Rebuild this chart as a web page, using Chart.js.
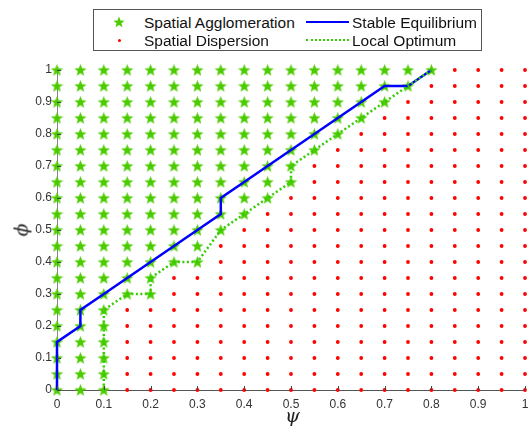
<!DOCTYPE html>
<html>
<head>
<meta charset="utf-8">
<script src="https://cdn.jsdelivr.net/npm/chart.js@4/dist/chart.umd.min.js"></script>
<style>
  html,body{margin:0;padding:0;background:#fff;}
  #wrap{position:relative;width:532px;height:436px;}
  #c{position:absolute;left:0;top:0;}
  #legend{position:absolute;left:93px;top:9px;width:387px;height:40px;border:1px solid #555;background:#fff;
    font-family:"Liberation Sans",Arial,sans-serif;font-size:15.5px;color:#111;}
  .it{position:absolute;white-space:nowrap;line-height:18px;}
  .sym{position:absolute;}
  .axt{position:absolute;font-family:"DejaVu Serif",serif;font-style:italic;font-size:19px;color:#222;line-height:20px;}
</style>
</head>
<body>
<div id="wrap">
  <canvas id="c" width="532" height="436"></canvas>
  <div id="legend">
    <canvas class="sym" id="lgStar" width="12" height="12" style="left:19px;top:6px;"></canvas>
    <span class="it" style="left:50px;top:4px;">Spatial Agglomeration</span>
    <span class="sym" style="left:24px;top:29px;width:3px;height:3px;border-radius:50%;background:#ff0000;"></span>
    <span class="it" style="left:50px;top:22px;">Spatial Dispersion</span>
    <span class="sym" style="left:212px;top:11px;width:43px;height:0;border-top:2.5px solid #0000ff;"></span>
    <span class="it" style="left:258px;top:4px;">Stable Equilibrium</span>
    <span class="sym" style="left:212px;top:29px;width:43px;height:0;border-top:2.5px dotted #33cc00;"></span>
    <span class="it" style="left:258px;top:22px;">Local Optimum</span>
  </div>
  <div class="axt" style="left:285px;top:405px;">ψ</div>
  <div class="axt" style="left:14px;top:220px;transform:rotate(-90deg);">ϕ</div>
</div>
<script>
// ---- data ----
const psiGrid = [0,0.05,0.1,0.15,0.2,0.25,0.3,0.35,0.4,0.45,0.5,0.55,0.6,0.65,0.7,0.75,0.8,0.85,0.9,0.95,1];
const phiGrid = [0,0.05,0.1,0.15,0.2,0.25,0.3,0.35,0.4,0.45,0.5,0.55,0.6,0.65,0.7,0.75,0.8,0.85,0.9,0.95,1];
// largest psi with agglomeration (star) in each phi row
const aggloMaxPsi = [0.1,0.1,0.1,0.1,0.1,0.1,0.2,0.2,0.3,0.3,0.35,0.4,0.45,0.5,0.5,0.55,0.6,0.65,0.7,0.75,0.8];
// stable equilibrium curve
const stablePsi = [0,0,0,0,0.05,0.05,0.1,0.15,0.2,0.25,0.3,0.35,0.35,0.4,0.45,0.5,0.55,0.6,0.65,0.7,0.75,0.8];
const stablePhi = [0,0.05,0.1,0.15,0.2,0.25,0.3,0.35,0.4,0.45,0.5,0.55,0.6,0.65,0.7,0.75,0.8,0.85,0.9,0.95,0.95,1];
// local optimum curve
const localPsi = [0.1,0.1,0.1,0.1,0.1,0.1,0.15,0.2,0.2,0.25,0.3,0.35,0.4,0.45,0.5,0.5,0.55,0.6,0.65,0.7,0.75,0.8];
const localPhi = [0,0.05,0.1,0.15,0.2,0.25,0.3,0.3,0.35,0.4,0.4,0.5,0.55,0.6,0.65,0.7,0.75,0.8,0.85,0.9,0.95,1];
const xTicks = [0,0.1,0.2,0.3,0.4,0.5,0.6,0.7,0.8,0.9,1];
const yTicks = [0,0.1,0.2,0.3,0.4,0.5,0.6,0.7,0.8,0.9,1];

// ---- build point tables ----
const aggPts = [], disPts = [];
phiGrid.forEach((phi, i) => {
  psiGrid.forEach(psi => {
    if (psi <= aggloMaxPsi[i] + 1e-9) aggPts.push({x: psi, y: phi});
    else disPts.push({x: psi, y: phi});
  });
});
const stablePts = stablePsi.map((x, i) => ({x, y: stablePhi[i]}));
const localPts = localPsi.map((x, i) => ({x, y: localPhi[i]}));

const GREEN = '#4ccc00';
function starCanvas(size, color) {
  const c = document.createElement('canvas');
  c.width = size; c.height = size;
  const g = c.getContext('2d');
  const cx = size / 2, cy = size / 2 + size * 0.04, R = size / 2, r = R * 0.42;
  g.beginPath();
  for (let k = 0; k < 10; k++) {
    const a = -Math.PI / 2 + k * Math.PI / 5;
    const rr = k % 2 === 0 ? R : r;
    g.lineTo(cx + rr * Math.cos(a), cy + rr * Math.sin(a));
  }
  g.closePath();
  g.fillStyle = color; g.fill();
  return c;
}
function drawStarInto(canvas, color) {
  const s = starCanvas(canvas.width, color);
  canvas.getContext('2d').drawImage(s, 0, 0);
}
drawStarInto(document.getElementById('lgStar'), GREEN);
const starImg = starCanvas(13, GREEN);

const innerTicks = {
  id: 'innerTicks',
  afterDatasetsDraw(chart) {
    const ctx = chart.ctx, xs = chart.scales.x, ys = chart.scales.y;
    const L = 4;
    ctx.save();
    ctx.strokeStyle = '#444'; ctx.lineWidth = 1;
    xTicks.forEach(v => {
      const px = Math.round(xs.getPixelForValue(v)) + 0.5;
      ctx.beginPath(); ctx.moveTo(px, ys.bottom); ctx.lineTo(px, ys.bottom - L); ctx.stroke();
    });
    yTicks.forEach(v => {
      const py = Math.round(ys.getPixelForValue(v)) + 0.5;
      ctx.beginPath(); ctx.moveTo(xs.left, py); ctx.lineTo(xs.left + L, py); ctx.stroke();
    });
    ctx.restore();
  }
};

new Chart(document.getElementById('c'), {
  type: 'scatter',
  data: {
    datasets: [
      {label: 'Spatial Agglomeration', data: aggPts, pointStyle: starImg, pointRadius: 6, clip: false, order: 4},
      {label: 'Spatial Dispersion', data: disPts, pointStyle: 'circle', pointRadius: 1.9, backgroundColor: '#ff0000', borderWidth: 0, clip: false, order: 3},
      {label: 'Stable Equilibrium', data: stablePts, showLine: true, borderColor: '#0000ff', borderWidth: 2.5, pointRadius: 0, fill: false, clip: false, order: 2},
      {label: 'Local Optimum', data: localPts, showLine: true, borderColor: '#33cc00', borderWidth: 2.5, borderDash: [2, 2.5], pointRadius: 0, fill: false, clip: false, order: 1}
    ]
  },
  options: {
    responsive: false,
    animation: false,
    events: [],
    layout: {padding: {left: 0, top: 70, right: 5, bottom: 0}},
    plugins: {legend: {display: false}, tooltip: {enabled: false}},
    scales: {
      x: {
        type: 'linear', min: 0, max: 1,
        afterBuildTicks: s => { s.ticks = xTicks.map(v => ({value: v})); },
        afterFit: s => { s.height = 46; s.paddingLeft = 0; s.paddingRight = 0; },
        grid: {display: true, drawOnChartArea: false, drawTicks: false},
        border: {display: true, color: '#555', width: 1},
        ticks: {padding: 7, color: '#333', font: {family: 'Liberation Sans, Arial, sans-serif', size: 12},
                maxRotation: 0, autoSkip: false, callback: v => String(Math.round(v * 10) / 10)}
      },
      y: {
        type: 'linear', min: 0, max: 1,
        afterBuildTicks: s => { s.ticks = yTicks.map(v => ({value: v})); },
        afterFit: s => { s.width = 57; s.paddingTop = 0; s.paddingBottom = 0; },
        grid: {display: true, drawOnChartArea: false, drawTicks: false},
        border: {display: true, color: '#888', width: 1},
        ticks: {padding: 5, color: '#333', font: {family: 'Liberation Sans, Arial, sans-serif', size: 12},
                autoSkip: false, callback: v => String(Math.round(v * 10) / 10)}
      }
    }
  },
  plugins: [innerTicks]
});
</script>
</body>
</html>
